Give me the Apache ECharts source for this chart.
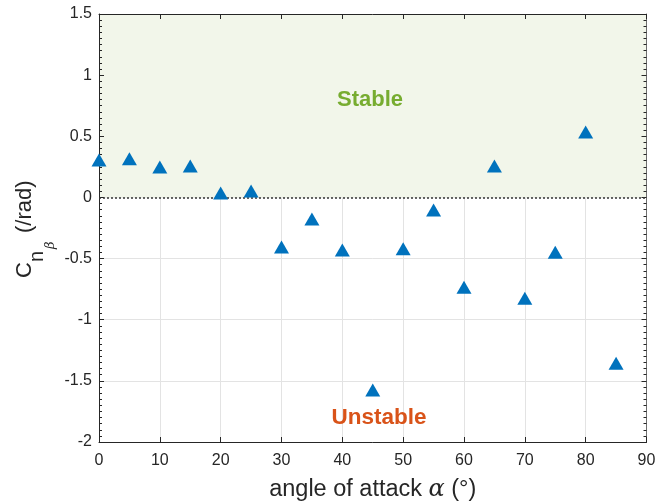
<!DOCTYPE html>
<html>
<head>
<meta charset="utf-8">
<script src="https://cdn.jsdelivr.net/npm/echarts@6/dist/echarts.min.js"></script>
<style>
  html, body { margin: 0; padding: 0; background: #fff; }
  #chart { width: 655px; height: 504px; }
</style>
</head>
<body>
<div id="chart"></div>
<script>
// Yaw stability derivative vs. angle of attack
const alphaDeg = [0, 5, 10, 15, 20, 25, 30, 35, 40, 45, 50, 55, 60, 65, 70, 75, 80, 85];
const cnBeta = [0.306, 0.317, 0.249, 0.257, 0.036, 0.052, -0.406, -0.177, -0.43, -1.575,
                -0.42, -0.103, -0.735, 0.257, -0.825, -0.449, 0.535, -1.355];
const xTicks = { min: 0, max: 90, step: 10 };
const yTicks = { min: -2, max: 1.5, step: 0.5 };
const stableBand = [0, 1.5];

const FONT = 'Liberation Sans, Arial, Helvetica, sans-serif';
const AX = '#262626';

const chart = echarts.init(document.getElementById('chart'), null, { renderer: 'canvas' });

const baseX = {
  type: 'value', min: xTicks.min, max: xTicks.max, interval: xTicks.step, z: 1,
  axisLine: { show: true, onZero: false, lineStyle: { color: AX, width: 1 } },
  axisTick: { show: true, inside: true, length: 5, lineStyle: { color: AX } },
  splitLine: { show: false }
};
const baseY = {
  type: 'value', min: yTicks.min, max: yTicks.max, interval: yTicks.step, z: 1,
  axisLine: { show: true, onZero: false, lineStyle: { color: AX, width: 1 } },
  axisTick: { show: true, inside: true, length: 5, lineStyle: { color: AX } },
  minorTick: { show: true, splitNumber: 10, length: 3, lineStyle: { color: AX } },
  splitLine: { show: false }
};

// rotated y-axis title pieces: C_{n_β} (/rad), reading bottom to top
function vText(text, x, y, size, extra) {
  return {
    type: 'text', x: x, y: y, rotation: Math.PI / 2, z: 10,
    style: Object.assign({ text: text, fill: AX, fontSize: size, fontFamily: FONT,
                           align: 'left', verticalAlign: 'bottom' }, extra || {})
  };
}

chart.setOption({
  animation: false,
  backgroundColor: '#ffffff',
  grid: { left: 99, right: 8.5, top: 14, bottom: 62, containLabel: false, outerBoundsMode: 'none' },
  xAxis: [
    Object.assign({}, baseX, {
      position: 'bottom',
      splitLine: { show: true, lineStyle: { color: '#e3e3e3', width: 1 } },
      axisLabel: { color: AX, fontSize: 16, fontFamily: FONT, margin: 11,
                   formatter: v => String(v) },
      name: '{t|angle of attack }{g|α}{t| (°)}',
      nameLocation: 'middle',
      nameGap: 36,
      nameTextStyle: {
        rich: {
          t: { fontSize: 23.5, color: AX, fontFamily: FONT },
          g: { fontSize: 24, color: AX, fontFamily: 'DejaVu Serif, serif', fontStyle: 'italic' }
        }
      }
    }),
    Object.assign({}, baseX, { position: 'top', axisLabel: { show: false } })
  ],
  yAxis: [
    Object.assign({}, baseY, {
      position: 'left',
      splitLine: { show: true, lineStyle: { color: '#e3e3e3', width: 1 } },
      axisLabel: { color: AX, fontSize: 16, fontFamily: FONT, margin: 7,
                   formatter: v => String(v) }
    }),
    Object.assign({}, baseY, { position: 'right', axisLabel: { show: false },
                               axisLine: { show: true, onZero: false, lineStyle: { color: '#6e6e6e', width: 1 } } })
  ],
  series: [
    {
      // shaded stable region
      type: 'scatter', data: [], z: 0, silent: true,
      markArea: {
        silent: true,
        itemStyle: { color: 'rgb(242,246,234)' },
        data: [[{ yAxis: stableBand[0] }, { yAxis: stableBand[1] }]]
      }
    },
    {
      // neutral-stability reference line
      type: 'scatter', data: [], z: 3, silent: true,
      markLine: {
        silent: true,
        symbol: 'none',
        label: { show: false },
        lineStyle: { color: '#333333', type: [2, 2], width: 1.5 },
        data: [{ yAxis: 0 }]
      }
    },
    {
      type: 'scatter',
      data: alphaDeg.map((a, i) => [a, cnBeta[i]]),
      symbol: 'triangle',
      symbolSize: [15, 13],
      itemStyle: { color: '#0072BD', opacity: 1 },
      z: 5
    }
  ],
  graphic: [
    { type: 'text', x: 370, y: 100, z: 10,
      style: { text: 'Stable', fill: '#77AC30', fontSize: 22, fontWeight: 'bold', fontFamily: FONT,
               align: 'center', verticalAlign: 'middle' } },
    { type: 'text', x: 379, y: 418, z: 10,
      style: { text: 'Unstable', fill: '#D95319', fontSize: 22.5, fontWeight: 'bold', fontFamily: FONT,
               align: 'center', verticalAlign: 'middle' } },
    vText('C', 36, 278, 22),
    vText('n', 47.5, 262, 20),
    vText('β', 57, 249, 13, { fontStyle: 'italic', fontFamily: 'DejaVu Serif, serif' }),
    vText('(/rad)', 36, 233, 22)
  ]
});
</script>
</body>
</html>
